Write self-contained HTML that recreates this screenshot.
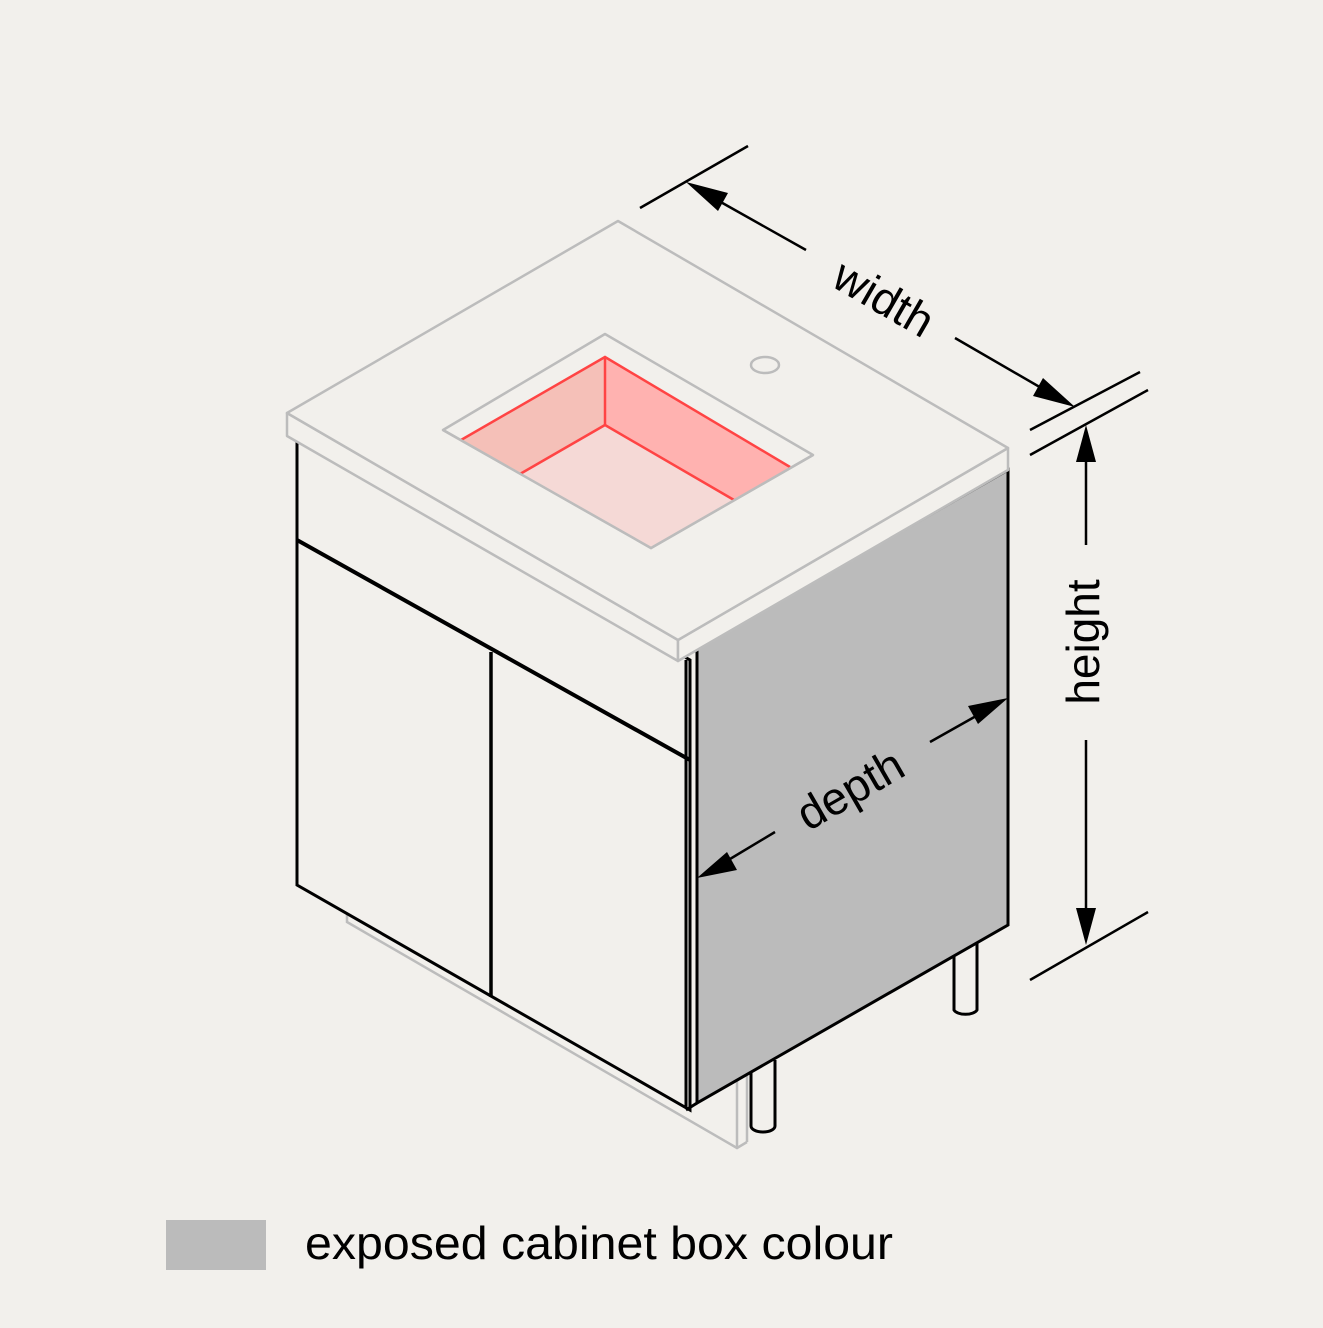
<!DOCTYPE html>
<html><head><meta charset="utf-8"><style>
html,body{margin:0;padding:0;background:#f2f0ec;}
svg{display:block}
text{font-family:"Liberation Sans",Arial,sans-serif;fill:#000}
</style></head><body>
<svg width="1323" height="1328" viewBox="0 0 1323 1328" xmlns="http://www.w3.org/2000/svg">
<rect width="1323" height="1328" fill="#f2f0ec"/>
<!-- ghost base -->
<g fill="none" stroke="#bcbcbc" stroke-width="2.5">
<polyline points="347,912 347,922 737,1148 747,1142"/>
<line x1="737" y1="1080" x2="737" y2="1148"/>
<line x1="747" y1="1076" x2="747" y2="1142"/>
</g>
<!-- legs -->
<g fill="#f2f0ec" stroke="#000" stroke-width="3">
<path d="M751,1070 V1126 A12,6 0 0 0 775,1126 V1060"/>
<path d="M954,955 V1010 A12,6 0 0 0 977,1010 V940"/>
</g>
<!-- cabinet front -->
<polygon points="297,440 690,660 690,1110 297,885" fill="#f2f0ec" stroke="#000" stroke-width="3"/>
<line x1="297" y1="540" x2="690" y2="760" stroke="#000" stroke-width="4"/>
<line x1="491" y1="652" x2="491" y2="997" stroke="#000" stroke-width="3.5"/>
<!-- side panel -->
<polygon points="697,648 1008,470 1008,925 697,1103" fill="#bbbbbb" stroke="#000" stroke-width="3"/>
<line x1="686" y1="660" x2="686" y2="1108" stroke="#000" stroke-width="3"/>
<line x1="686" y1="1110" x2="697" y2="1103" stroke="#000" stroke-width="3"/>
<!-- countertop -->
<g stroke="#bcbcbc" stroke-width="2.5" stroke-linejoin="round">
<polygon points="287,413 678,640 678,661 287,436" fill="#f2f0ec"/>
<polygon points="678,640 1008,448 1008,470 678,661" fill="#f2f0ec"/>
<polygon points="287,413 618,221 1008,448 678,640" fill="#f2f0ec"/>
<polygon points="443,430 605,334 813,455 651,548" fill="#f2f0ec"/>
</g>
<!-- sink -->
<polygon points="461,440 605,357 605,425 520,474" fill="#f5c0b8"/>
<polygon points="605,357 790,467 734,500 605,425" fill="#ffb2b0"/>
<polygon points="520,474 605,425 734,500 651,548" fill="#f5d9d6"/>
<g stroke="#ff4444" stroke-width="2.5" fill="none">
<polyline points="461,440 605,357 790,467"/>
<line x1="605" y1="357" x2="605" y2="425"/>
<polyline points="520,474 605,425 734,500"/>
</g>
<polyline points="443,430 651,548 813,455" fill="none" stroke="#bcbcbc" stroke-width="2.5"/>
<ellipse cx="765" cy="365" rx="14" ry="8" fill="none" stroke="#bcbcbc" stroke-width="2.5"/>
<!-- dimensions -->
<g stroke="#000" stroke-width="2.5" fill="none">
<line x1="640" y1="208" x2="748" y2="146"/>
<line x1="1030" y1="430" x2="1140" y2="372"/>
<line x1="1030" y1="455" x2="1148" y2="390"/>
<line x1="1030" y1="980" x2="1148" y2="912"/>
<line x1="710" y1="196" x2="806" y2="250"/>
<line x1="955" y1="338" x2="1050" y2="393"/>
<line x1="1086" y1="450" x2="1086" y2="545"/>
<line x1="1086" y1="740" x2="1086" y2="920"/>
<line x1="720" y1="865" x2="775" y2="832"/>
<line x1="930" y1="742" x2="985" y2="711"/>
</g>
<g fill="#000">
<polygon points="686,182 728,193 718,211"/>
<polygon points="1075,407 1033,396 1043,378"/>
<polygon points="1086,425 1076,462 1096,462"/>
<polygon points="1086,945 1076,908 1096,908"/>
<polygon points="697,878 727,852 737,870"/>
<polygon points="1008,698 978,724 968,706"/>
</g>
<text x="0" y="0" font-size="46" text-anchor="middle" transform="translate(876,312) rotate(30)">width</text>
<text x="0" y="0" font-size="46" text-anchor="middle" transform="translate(1099,642) rotate(-90)">height</text>
<text x="0" y="0" font-size="46" text-anchor="middle" transform="translate(858,803) rotate(-30)">depth</text>
<!-- legend -->
<rect x="166" y="1220" width="100" height="50" fill="#bbbbbb"/>
<text x="305" y="1259" font-size="46" textLength="588" lengthAdjust="spacingAndGlyphs">exposed cabinet box colour</text>
</svg>
</body></html>
